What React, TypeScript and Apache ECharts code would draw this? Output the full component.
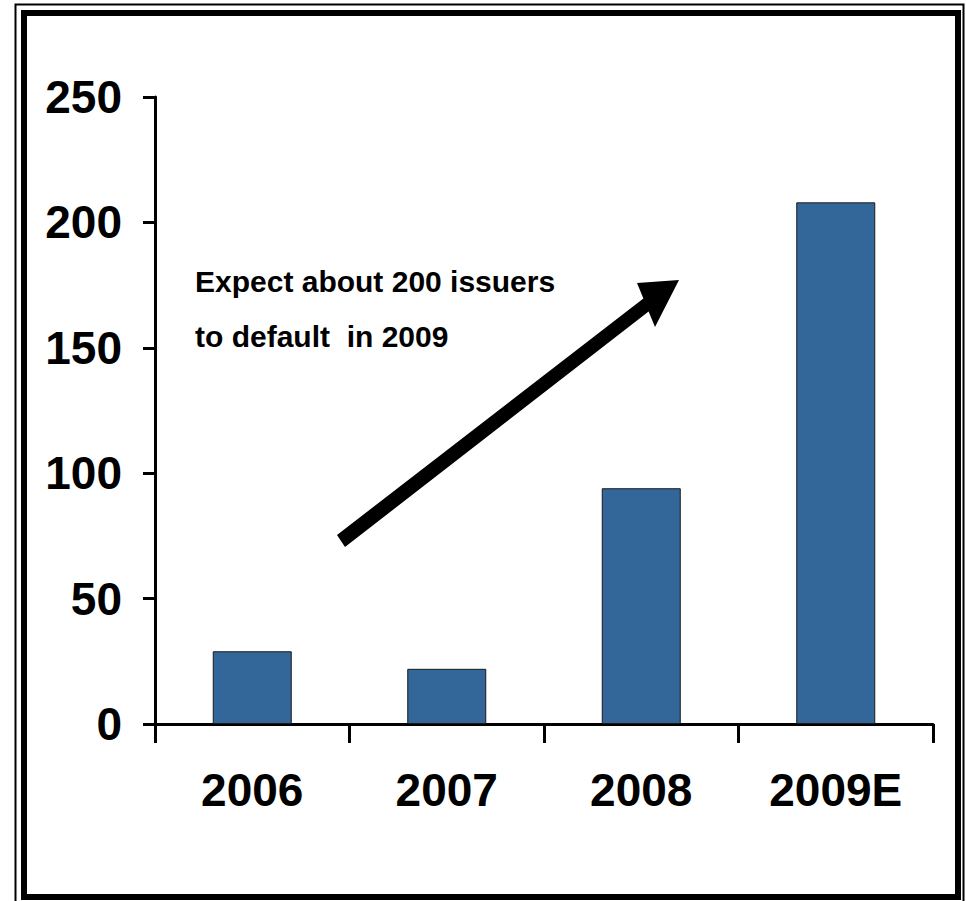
import React, { useEffect, useRef } from "react";
import * as echarts from "echarts";

const categories = ["2006", "2007", "2008", "2009E"];
const defaults = [29, 22, 94, 208];
const yMin = 0;
const yMax = 250;
const yInterval = 50;
const noteLines = ["Expect about 200 issuers", "to default  in 2009"];

const labelFont = '"Liberation Sans", Arial, sans-serif';
const noteFont = '"Liberation Sans", Arial, sans-serif';

export default function App() {
  const ref = useRef<HTMLDivElement>(null);
  useEffect(() => {
    if (!ref.current) return;
    const chart = echarts.init(ref.current, undefined, { renderer: "svg" });
    chart.setOption({
      animation: false,
      backgroundColor: "#ffffff",
      grid: { left: 155, right: 33, top: 97, bottom: 177, containLabel: false },
      xAxis: {
        type: "category",
        data: categories,
        boundaryGap: true,
        axisLine: { show: true, lineStyle: { color: "#000", width: 3 } },
        axisTick: { show: true, inside: false, length: 19, interval: 0, alignWithLabel: false, lineStyle: { color: "#000", width: 3 } },
        axisLabel: { interval: 0, color: "#000", fontSize: 46, fontWeight: "bold", fontFamily: labelFont, margin: 43 },
        splitLine: { show: false },
      },
      yAxis: {
        type: "value",
        min: yMin,
        max: yMax,
        interval: yInterval,
        axisLine: { show: true, lineStyle: { color: "#000", width: 3 } },
        axisTick: { show: true, inside: false, length: 12, lineStyle: { color: "#000", width: 3 } },
        axisLabel: { color: "#000", fontSize: 46, fontWeight: "bold", fontFamily: labelFont, margin: 33 },
        splitLine: { show: false },
      },
      series: [
        {
          type: "bar",
          data: defaults,
          barWidth: 79,
          itemStyle: { color: "#336699", borderColor: "#1a1a1a", borderWidth: 1 },
        },
      ],
      graphic: [
        {
          type: "rect",
          shape: { x: 15.5, y: 4.5, width: 948, height: 910 },
          style: { fill: "none", stroke: "#000", lineWidth: 2 },
          z: 100,
        },
        {
          type: "rect",
          shape: { x: 24, y: 13, width: 934, height: 884 },
          style: { fill: "none", stroke: "#000", lineWidth: 6 },
          z: 100,
        },
        {
          type: "polygon",
          shape: {
            points: [
              [337, 535],
              [643.4, 298.5],
              [637, 283],
              [679, 280],
              [655, 327],
              [648.6, 311.5],
              [345, 547],
            ],
          },
          style: { fill: "#000" },
          z: 100,
        },
        {
          type: "text",
          x: 195,
          y: 281.5,
          style: { text: noteLines[0], font: "bold 30px " + noteFont, fill: "#000", verticalAlign: "middle", align: "left" },
          z: 100,
        },
        {
          type: "text",
          x: 195,
          y: 336.5,
          style: { text: noteLines[1], font: "bold 30px " + noteFont, fill: "#000", verticalAlign: "middle", align: "left" },
          z: 100,
        },
      ],
    });
    return () => chart.dispose();
  }, []);
  return (
    <div
      ref={ref}
      style={{ position: "fixed", left: 0, top: 0, width: 966, height: 901, background: "#fff" }}
    />
  );
}
